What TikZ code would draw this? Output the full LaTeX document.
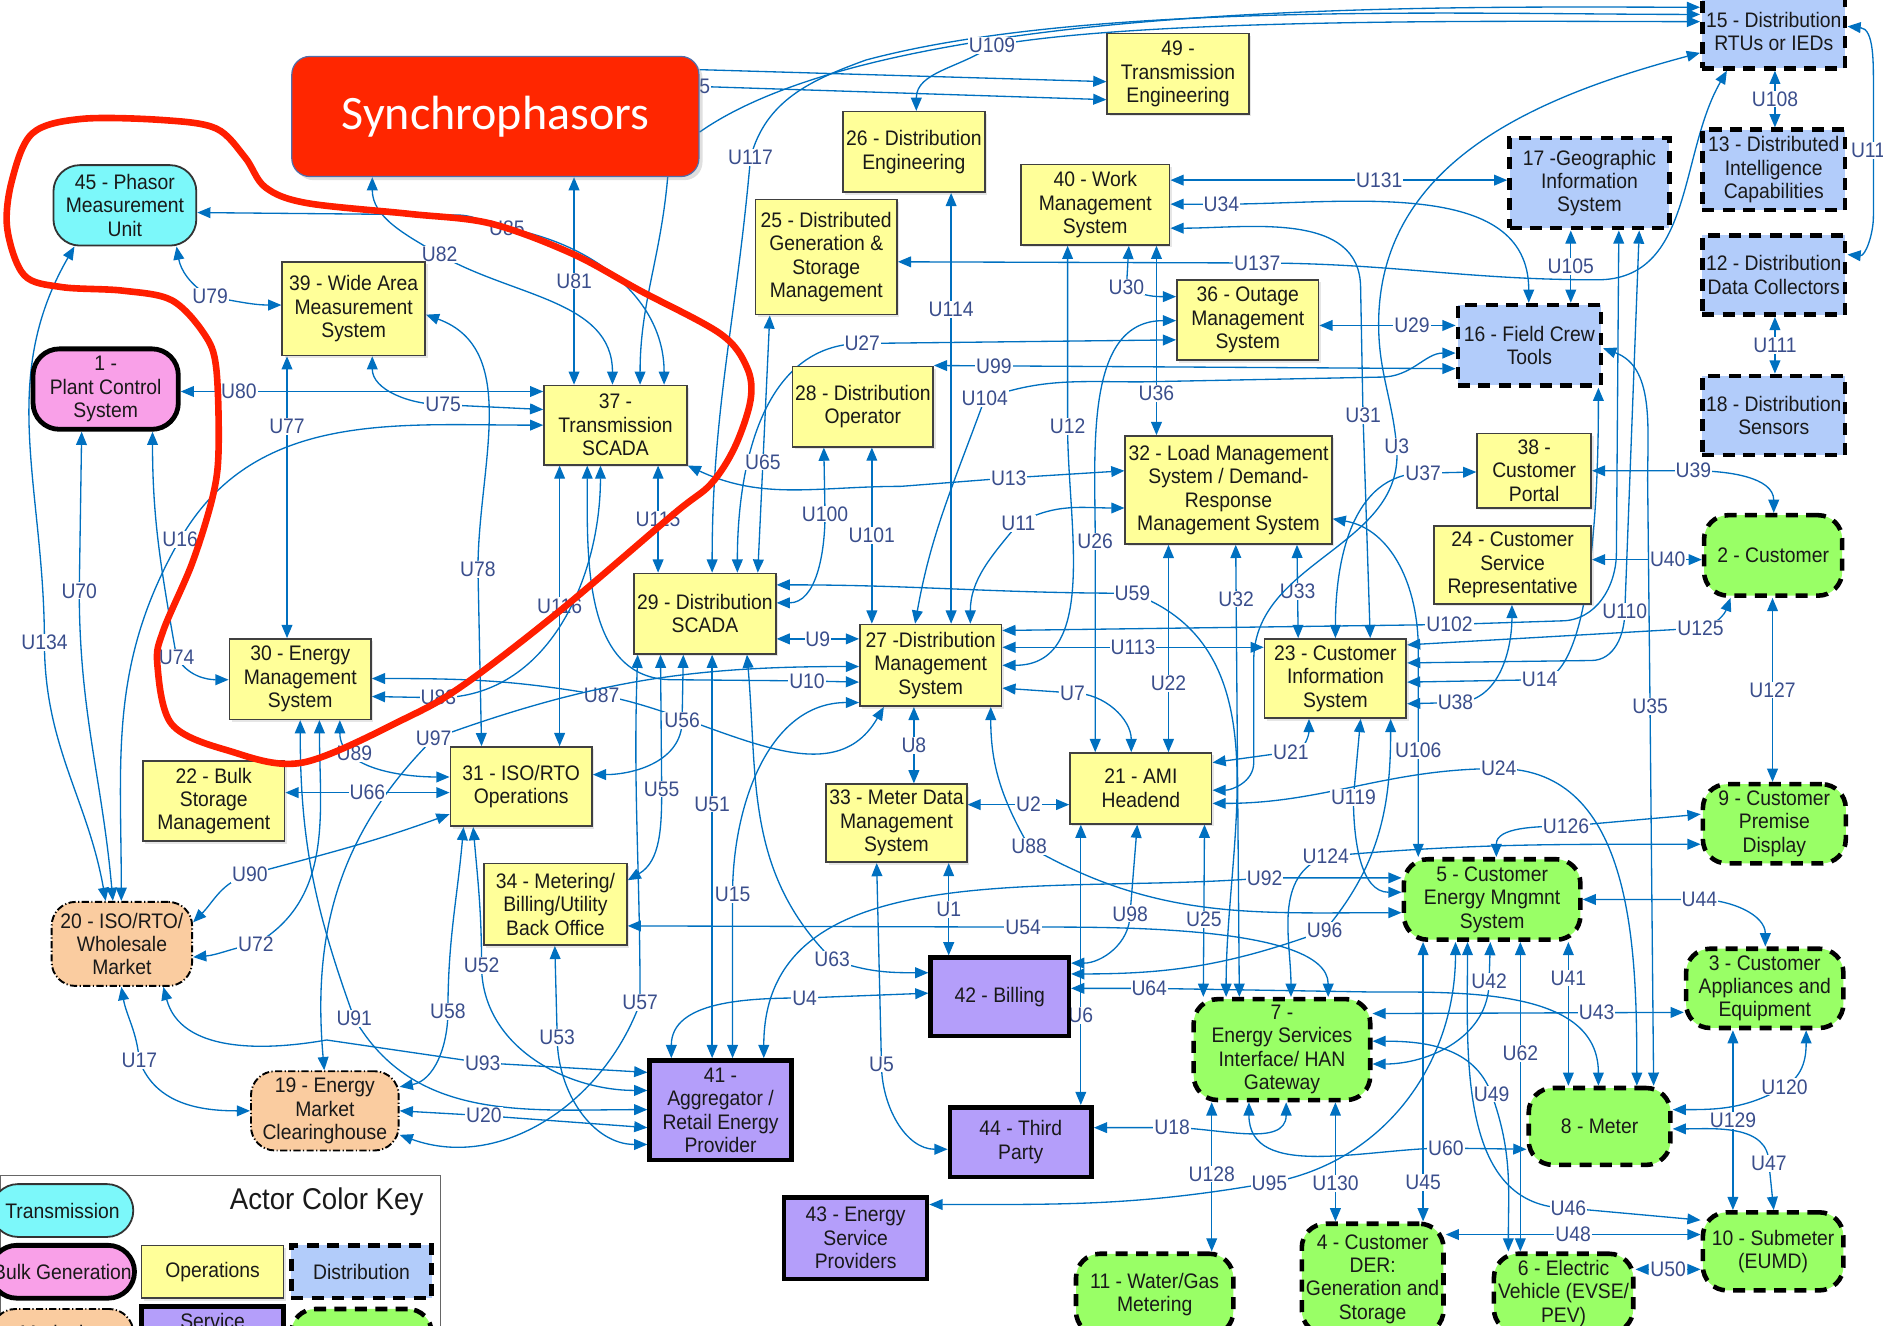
\documentclass[tikz,border=0pt]{standalone}
\usepackage{fontspec}
\setmainfont{Liberation Sans}[FakeStretch=0.92]
\newfontfamily\synfont{Carlito}
\usetikzlibrary{arrows.meta,shadows}

\definecolor{opsyellow}{RGB}{255,255,153}
\definecolor{distblue}{RGB}{178,204,250}
\definecolor{custgreen}{RGB}{153,255,102}
\definecolor{svcpurple}{RGB}{180,158,250}
\definecolor{mktorange}{RGB}{250,204,160}
\definecolor{transcyan}{RGB}{124,248,250}
\definecolor{bulkpink}{RGB}{249,160,232}
\definecolor{lineblue}{RGB}{0,112,192}
\definecolor{lblblue}{RGB}{58,78,140}
\definecolor{synred}{RGB}{255,38,0}
\definecolor{loopred}{RGB}{255,30,0}

\newcommand\actorfont{\fontsize{17.5}{19.5}\selectfont}

\pgfdeclarelayer{bg}
\pgfsetlayers{bg,main}

\tikzset{
  actor/.style={font=\actorfont, align=center, inner sep=1pt, text=black!90},
  ops/.style={actor, draw=black!75, line width=1.3pt, fill=opsyellow, drop shadow={shadow xshift=2pt, shadow yshift=-2pt, opacity=0.2}},
  dist/.style={actor, draw=black, line width=3.8pt, dash pattern=on 10pt off 7pt, fill=distblue},
  cust/.style={dist, fill=custgreen, rounded corners=20pt},
  svc/.style={actor, draw=black, line width=3.8pt, fill=svcpurple},
  mkt/.style={actor, draw=black, line width=1.6pt, dash pattern=on 6pt off 2pt on 1pt off 2pt, rounded corners=20pt, fill=mktorange},
  trans/.style={actor, draw=black!80, line width=1.5pt, rounded corners=22pt, fill=transcyan},
  bulk/.style={actor, draw=black, line width=4pt, rounded corners=22pt, fill=bulkpink},
  cn/.style={draw=lineblue, line width=1.1pt, <->},
  one/.style={draw=lineblue, line width=1.1pt, ->},
  lbl/.style={font=\actorfont, text=lblblue, fill=white, inner sep=0.8pt},
}

\begin{document}
\begin{tikzpicture}[x=1pt, y=-1pt, >={Triangle[length=11pt,width=9pt]}]
\useasboundingbox (0,0) rectangle (1568,1104);
\clip (0,0) rectangle (1568,1104);

\node[draw={rgb,255:red,80;green,110;blue,170}, line width=1pt, fill=synred, rounded corners=15pt, minimum width=339pt, minimum height=100pt, text=white, font=\synfont\fontsize{40}{44}\selectfont, drop shadow={shadow xshift=3pt, shadow yshift=-3pt, opacity=0.25}] (syn) at (412.5,97) {Synchrophasors};

\node[trans, minimum width=119pt, minimum height=67pt] (n45) at (104,171) {45 - Phasor\\Measurement\\Unit};
\node[ops, minimum width=119pt, minimum height=78pt] (n39) at (294.5,257) {39 - Wide Area\\Measurement\\System};
\node[bulk, minimum width=121pt, minimum height=67pt] (n1) at (88,324) {1 -\\Plant Control\\System};
\node[ops, minimum width=119pt, minimum height=66pt] (n37) at (512.5,354) {37 -\\Transmission\\SCADA};
\node[ops, minimum width=118pt, minimum height=67pt] (n30) at (250,565.5) {30 - Energy\\Management\\System};
\node[ops, minimum width=118pt, minimum height=67pt] (n22) at (178,667) {22 - Bulk\\Storage\\Management};
\node[ops, minimum width=118pt, minimum height=66pt] (n31) at (434,655) {31 - ISO/RTO\\Operations};
\node[mkt, minimum width=117pt, minimum height=70pt] (n20) at (101.5,786) {20 - ISO/RTO/\\Wholesale\\Market};
\node[ops, minimum width=119pt, minimum height=68pt] (n34) at (462.5,753) {34 - Metering/\\Billing/Utility\\Back Office};
\node[mkt, minimum width=123pt, minimum height=66pt] (n19) at (270.5,925) {19 - Energy\\Market\\Clearinghouse};
\node[svc, minimum width=118pt, minimum height=83pt] (n41) at (600,924.5) {41 -\\Aggregator /\\Retail Energy\\Provider};
\node[svc, minimum width=119pt, minimum height=68pt] (n43) at (712.5,1031) {43 - Energy\\Service\\Providers};
\node[svc, minimum width=115pt, minimum height=65pt] (n42) at (832.5,830) {42 - Billing};
\node[svc, minimum width=118pt, minimum height=58pt] (n44) at (850,951) {44 - Third\\Party};
\node[ops, minimum width=118pt, minimum height=67pt] (n29) at (587,511) {29 - Distribution\\SCADA};
\node[ops, minimum width=117pt, minimum height=67pt] (n28) at (718.5,338.5) {28 - Distribution\\Operator};
\node[ops, minimum width=118pt, minimum height=96pt] (n25) at (688,214) {25 - Distributed\\Generation \&\\Storage\\Management};
\node[ops, minimum width=118pt, minimum height=67pt] (n26) at (761,126.5) {26 - Distribution\\Engineering};
\node[ops, minimum width=118pt, minimum height=67pt] (n49) at (981,61.5) {49 -\\Transmission\\Engineering};
\node[ops, minimum width=124pt, minimum height=67pt] (n40) at (912,170.5) {40 - Work\\Management\\System};
\node[ops, minimum width=118pt, minimum height=67pt] (n36) at (1039,266.5) {36 - Outage\\Management\\System};
\node[ops, minimum width=118pt, minimum height=68pt] (n27) at (775,554) {27 -Distribution\\Management\\System};
\node[ops, minimum width=117pt, minimum height=65pt] (n33) at (746.5,685.5) {33 - Meter Data\\Management\\System};
\node[ops, minimum width=118pt, minimum height=59pt] (n21) at (950,656.5) {21 - AMI\\Headend};
\node[ops, minimum width=172pt, minimum height=90pt] (n32) at (1023,408) {32 - Load Management\\System / Demand-\\Response\\Management System};
\node[ops, minimum width=118pt, minimum height=66pt] (n23) at (1112,565) {23 - Customer\\Information\\System};
\node[ops, minimum width=95pt, minimum height=62pt] (n38) at (1277.5,392) {38 -\\Customer\\Portal};
\node[ops, minimum width=131pt, minimum height=65pt] (n24) at (1259.5,470.5) {24 - Customer\\Service\\Representative};
\node[dist, minimum width=133pt, minimum height=75pt] (n17) at (1323.5,152.5) {17 -Geographic\\Information\\System};
\node[dist, minimum width=119pt, minimum height=67pt] (n16) at (1273.5,287.5) {16 - Field Crew\\Tools};
\node[dist, minimum width=119pt, minimum height=62pt] (n15) at (1477,26) {15 - Distribution\\RTUs or IEDs};
\node[dist, minimum width=119pt, minimum height=67pt] (n13) at (1477,141.5) {13 - Distributed\\Intelligence\\Capabilities};
\node[dist, minimum width=119pt, minimum height=66pt] (n12) at (1477,229) {12 - Distribution\\Data Collectors};
\node[dist, minimum width=119pt, minimum height=66pt] (n18) at (1477,346) {18 - Distribution\\Sensors};
\node[cust, minimum width=115pt, minimum height=67pt] (n2) at (1476.5,462.5) {2 - Customer};
\node[cust, minimum width=119pt, minimum height=66pt] (n9) at (1477.5,686) {9 - Customer\\Premise\\Display};
\node[cust, minimum width=147pt, minimum height=67pt] (n5) at (1242.5,749) {5 - Customer\\Energy Mngmnt\\System};
\node[cust, minimum width=131pt, minimum height=66pt] (n3) at (1469.5,823) {3 - Customer\\Appliances and\\Equipment};
\node[cust, minimum width=147pt, minimum height=84pt] (n7) at (1067.5,874) {7 -\\Energy Services\\Interface/ HAN\\Gateway};
\node[cust, minimum width=118pt, minimum height=64pt] (n8) at (1332,938) {8 - Meter};
\node[cust, minimum width=117pt, minimum height=65pt] (n10) at (1476.5,1042) {10 - Submeter\\(EUMD)};
\node[cust, minimum width=118pt, minimum height=92pt] (n4) at (1143,1065) {4 - Customer\\DER:\\Generation and\\Storage};
\node[cust, minimum width=116pt, minimum height=66pt] (n6) at (1302,1077) {6 - Electric\\Vehicle (EVSE/\\PEV)};
\node[cust, minimum width=131pt, minimum height=68pt] (n11) at (961.5,1078) {11 - Water/Gas\\Metering};

\begin{pgfonlayer}{bg}
\clip (0,0) rectangle (1568,1104);
\draw[one] (syn.east |- 0,58) -- (n49.west |- 0,68);
\draw[one] (syn.east |- 0,72) node[lbl,xshift=-6pt]{U35} -- (n49.west |- 0,83);
\draw[one] (syn.east |- 0,110) to[out=35,in=180,looseness=0.6] (n15.west |- 0,6);
\draw[cn] (n29.north -| 593,0) to[out=90,in=265] (625,131) node[lbl]{U117} to[out=75,in=200] (721,50) to[out=15,in=180,looseness=0.7] (n15.west |- 0,12);
\draw[cn] (n26.north -| 763,0) to[out=90,in=215] (826,38) node[lbl]{U109} to[out=10,in=180,looseness=0.6] (n15.west |- 0,18);
\draw[cn] (n25.east |- 0,218) -- (1047,219) node[lbl]{U137} to[out=0,in=180] (1330,233) to[out=0,in=240] (n15.south -| 1438,0);
\draw[cn] (n15.east |- 0,22) to[out=-5,in=90] (1560,75) -- (1560,125) node[lbl]{U112} -- (1560,180) to[out=270,in=-5] (n12.east |- 0,212);
\draw[cn] (n15.south -| 1478,0) -- node[lbl]{U108} (n13.north -| 1478,0);
\draw[cn] (n12.south -| 1478,0) -- node[lbl]{U111} (n18.north -| 1478,0);

\draw[cn] (syn.south -| 478,0) -- node[lbl]{U81} (n37.north -| 478,0);
\draw[cn] (syn.south -| 310,0) to[out=270,in=150] (366,212) node[lbl]{U82} to[out=-30,in=90] (n37.north -| 510,0);
\draw[one] (syn.south -| 556,0) to[out=265,in=90] (n37.north -| 533,0);
\draw[cn] (n45.east |- 0,177) -- (380,179) to[out=0,in=170] (422,190) node[lbl]{U85} to[out=-10,in=90] (n37.north -| 553,0);
\draw[cn] (n45.south -| 147,0) to[out=-80,in=150] (175,247) node[lbl]{U79} to[out=-10,in=180] (n39.west |- 0,254);
\draw[cn] (n45.south -| 62,0) to[out=240,in=90] (37,535) node[lbl]{U134} to[out=270,in=100] (n20.north -| 88,0);
\draw[cn] (n1.south -| 68,0) -- (66,492) node[lbl]{U70} to[out=270,in=95] (n20.north -| 94,0);
\draw[cn] (n1.south -| 127,0) to[out=270,in=100] (147,547) node[lbl]{U74} to[out=-60,in=180] (n30.west |- 0,566);
\draw[cn] (n37.west |- 0,354) to[out=180,in=60] (150,449) node[lbl]{U16} to[out=240,in=90] (n20.north -| 101,0);
\draw[cn] (n1.east |- 0,326) -- (199,326) node[lbl]{U80} -- (n37.west |- 0,326);
\draw[cn] (n39.south -| 310,0) to[out=270,in=180] (369,337) node[lbl]{U75} -- (n37.west |- 0,341);
\draw[cn] (n39.south -| 239,0) -- node[lbl,pos=0.25]{U77} (n30.north -| 239,0);
\draw[cn] (n39.east |- 0,262) to[out=-20,in=90] (398,474) node[lbl]{U78} -- (n31.north -| 401,0);
\draw[cn] (n37.south -| 466,0) -- node[lbl]{U116} (n31.north -| 466,0);
\draw[cn] (n37.south -| 489,0) to[out=270,in=180] (560,566) -- (672,567) node[lbl]{U10} -- (n27.west |- 0,568);
\draw[cn] (n37.south -| 500,0) to[out=270,in=0] (365,581) node[lbl]{U83} -- (n30.east |- 0,580);
\draw[cn] (n30.east |- 0,565) to[out=0,in=170] (501,579) node[lbl]{U87} to[out=-10,in=240] (n27.south -| 736,0);
\draw[cn] (n27.west |- 0,555) to[out=180,in=20] (361,615) node[lbl]{U97} to[out=225,in=95] (n19.north -| 270,0);
\draw[cn] (n30.south -| 283,0) to[out=270,in=180] node[lbl,pos=0.3]{U89} (n31.west |- 0,647);
\draw[cn] (n22.east |- 0,660) -- node[lbl]{U66} (n31.west |- 0,660);
\draw[cn] (n31.west |- 0,678) to[out=200,in=15] (208,728) node[lbl]{U90} to[out=195,in=45] (n20.east |- 0,768);
\draw[cn] (n20.east |- 0,797) to[out=5,in=190] (213,786) node[lbl]{U72} to[out=30,in=270] (n30.south -| 266,0);
\draw[cn] (n30.south -| 250,0) to[out=270,in=110] (295,848) node[lbl]{U91} to[out=-60,in=180] (n41.west |- 0,924);
\draw[cn] (n20.south -| 136,0) to[out=285,in=190] (272,866) -- (402,885) node[lbl]{U93} -- (n41.west |- 0,893);
\draw[cn] (n20.south -| 101,0) to[out=280,in=95] (116,883) node[lbl]{U17} to[out=-70,in=180] (n19.west |- 0,925);
\draw[cn] (n31.south -| 386,0) to[out=265,in=90] (373,842) node[lbl]{U58} to[out=270,in=10] (n19.east |- 0,905);
\draw[cn] (n31.south -| 394,0) to[out=275,in=90] (401,804) node[lbl]{U52} to[out=270,in=180] (n41.west |- 0,908);
\draw[cn] (n19.east |- 0,925) -- (403,929) node[lbl]{U20} -- (n41.west |- 0,939);
\draw[cn] (n29.south -| 531,0) to[out=268,in=90] (533,835) node[lbl]{U57} to[out=250,in=-20] (n19.east |- 0,945);
\draw[cn] (n34.south -| 462,0) -- (464,864) node[lbl]{U53} to[out=270,in=180] (n41.west |- 0,953);
\draw[cn] (n29.south -| 550,0) -- (551,657) node[lbl]{U55} to[out=270,in=30] (n34.east |- 0,733);
\draw[cn] (n29.south -| 569,0) -- (568,600) node[lbl]{U56} to[out=270,in=0] (n31.east |- 0,645);
\draw[cn] (n29.south -| 593,0) -- node[lbl,pos=0.37]{U51} (n41.north -| 593,0);
\draw[cn] (n29.south -| 622,0) to[out=275,in=135] (693,799) node[lbl]{U63} to[out=-20,in=180] (n42.west |- 0,810);
\draw[cn] (n27.west |- 0,585) to[out=180,in=90] (610,745) node[lbl]{U15} -- (n41.north -| 610,0);
\draw[cn] (n42.west |- 0,827) -- (670,831) node[lbl]{U4} to[out=180,in=90] (n41.north -| 559,0);
\draw[cn] (n41.north -| 636,0) to[out=90,in=185] (1053,731) node[lbl]{U92} -- (n5.west |- 0,731);
\draw[cn] (n34.east |- 0,771) -- (852,772) node[lbl]{U54} to[out=0,in=90,looseness=0.6] (n7.north -| 1106,0);
\draw[cn] (n33.south -| 790,0) -- node[lbl]{U1} (n42.north -| 790,0);
\draw[cn] (n33.south -| 730,0) -- (734,886) node[lbl]{U5} to[out=270,in=180] (n44.west |- 0,957);
\draw[cn] (n27.south -| 761,0) -- node[lbl]{U8} (n33.north -| 761,0);
\draw[cn] (n33.east |- 0,670) -- node[lbl,pos=0.6]{U2} (n21.west |- 0,670);
\draw[cn] (n21.south -| 900,0) -- node[lbl,pos=0.68]{U6} (n44.north -| 900,0);
\draw[cn] (n21.south -| 947,0) -- (941,761) node[lbl]{U98} to[out=270,in=0] (n42.east |- 0,802);
\draw[cn] (n42.east |- 0,811) to[out=0,in=200] (1103,775) node[lbl]{U96} to[out=50,in=270] (n23.south -| 1158,0);
\draw[cn] (n42.east |- 0,823) -- (957,823) node[lbl]{U64} -- (1140,826) to[out=0,in=90] (n8.north -| 1331,0);
\draw[cn] (n21.south -| 1003,0) -- node[lbl,pos=0.55]{U25} (n7.north -| 1002,0);
\draw[cn] (n27.south -| 825,0) to[out=270,in=120] (857,705) node[lbl]{U88} to[out=-30,in=180] (n5.west |- 0,760);
\draw[cn] (n29.east |- 0,487) to[out=0,in=180] (943,494) node[lbl]{U59} to[out=-20,in=90] (n7.north -| 1021,0);
\draw[cn] (n32.south -| 1029,0) -- node[lbl,pos=0.12]{U32} (n7.north -| 1032,0);
\draw[cn] (n32.south -| 973,0) -- node[lbl,pos=0.67]{U22} (n21.north -| 973,0);
\draw[cn] (n21.north -| 912,0) -- (912,451) node[lbl]{U26} to[out=90,in=180] (n36.west |- 0,267);
\draw[cn] (n27.east |- 0,573) -- (893,577) node[lbl]{U7} to[out=0,in=90] (n21.north -| 942,0);
\draw[cn] (n27.east |- 0,554) to[out=0,in=270] (889,355) node[lbl]{U12} -- (n40.south -| 889,0);
\draw[cn] (n27.east |- 0,539) -- node[lbl]{U113} (n23.west |- 0,539);
\draw[cn] (n27.east |- 0,525) -- (1207,520) node[lbl]{U102} -- (1300,517) to[out=0,in=270] (1346,460) -- (n17.south -| 1348,0);
\draw[cn] (n23.east |- 0,552) -- (1325,550) to[out=0,in=270] (1353,509) node[lbl]{U110} -- (n17.south -| 1365,0);
\draw[cn] (n23.east |- 0,568) -- (1282,566) node[lbl]{U14} to[out=0,in=270,looseness=0.5] (n16.south -| 1331,0);
\draw[cn] (n23.east |- 0,586) -- (1212,585) node[lbl]{U38} to[out=0,in=270] (n24.south -| 1259,0);
\draw[cn] (n23.east |- 0,537) -- (1416,523) node[lbl]{U125} to[out=10,in=250] (n2.south -| 1441,0);
\draw[cn] (n32.south -| 1080,0) -- node[lbl]{U33} (n23.north -| 1081,0);
\draw[cn] (n23.north -| 1112,0) to[out=90,in=180] (1185,394) node[lbl]{U37} -- (n38.west |- 0,393);
\draw[cn] (n23.north -| 1141,0) -- (1135,346) node[lbl]{U31} -- (1133,240) to[out=90,in=0] (n40.east |- 0,190);
\draw[cn] (n15.west |- 0,44) to[out=195,in=90] (1148,270) to[out=270,in=95] (1163,372) node[lbl]{U3} to[out=275,in=90] (1044,550) -- (1044,635) to[out=270,in=0] (n21.east |- 0,658);
\draw[cn] (n23.south -| 1090,0) to[out=270,in=0] (1075,626) node[lbl]{U21} -- (n21.east |- 0,635);
\draw[cn] (n21.east |- 0,669) to[out=0,in=180] (1248,640) node[lbl]{U24} to[out=0,in=90] (n8.north -| 1363,0);
\draw[cn] (n23.south -| 1133,0) -- (1127,664) node[lbl]{U119} to[out=270,in=180] (n5.west |- 0,743);
\draw[cn] (n32.east |- 0,432) to[out=-10,in=90] (1181,540) -- (1181,625) node[lbl]{U106} -- (n5.north -| 1181,0);
\draw[cn] (n5.north -| 1246,0) to[out=90,in=180] (1304,688) node[lbl]{U126} -- (n9.west |- 0,678);
\draw[cn] (n7.north -| 1075,0) to[out=90,in=200] (1104,713) node[lbl]{U124} to[out=5,in=180] (n9.west |- 0,703);
\draw[cn] (n5.east |- 0,749) -- (1415,749) node[lbl]{U44} to[out=0,in=90] (n3.north -| 1470,0);
\draw[cn] (n2.south -| 1476,0) -- node[lbl]{U127} (n9.north -| 1476,0);
\draw[cn] (n7.east |- 0,844) -- node[lbl,pos=0.72]{U43} (n3.west |- 0,843);
\draw[cn] (n5.south -| 1241,0) -- (1240,817) node[lbl]{U42} to[out=270,in=0] (n7.east |- 0,886);
\draw[cn] (n7.east |- 0,867) to[out=0,in=110] (1242,911) node[lbl]{U49} to[out=-70,in=90] (n6.north -| 1256,0);
\draw[cn] (n5.south -| 1266,0) -- node[lbl,pos=0.36]{U62} (n6.north -| 1266,0);
\draw[cn] (n5.south -| 1306,0) -- node[lbl,pos=0.25]{U41} (n8.north -| 1306,0);
\draw[cn] (n5.south -| 1222,0) to[out=270,in=180] (1306,1006) node[lbl]{U46} -- (n10.west |- 0,1016);
\draw[cn] (n5.south -| 1185,0) -- node[lbl,pos=0.86]{U45} (n4.north -| 1185,0);
\draw[cn] (n43.east |- 0,1003) to[out=0,in=190] (1057,985) node[lbl]{U95} to[out=10,in=270] (n5.south -| 1212,0);
\draw[cn] (n7.south -| 1009,0) -- node[lbl,pos=0.48]{U128} (n11.north -| 1009,0);
\draw[cn] (n7.south -| 1112,0) -- node[lbl,pos=0.68]{U130} (n4.north -| 1112,0);
\draw[cn] (n44.east |- 0,939) -- (976,939) node[lbl]{U18} to[out=0,in=270] (n7.south -| 1071,0);
\draw[cn] (n7.south -| 1040,0) to[out=270,in=180] (1204,956) node[lbl]{U60} -- (n8.west |- 0,957);
\draw[cn] (n4.east |- 0,1028) -- node[lbl]{U48} (n10.west |- 0,1028);
\draw[cn] (n6.east |- 0,1057) -- node[lbl]{U50} (n10.west |- 0,1057);
\draw[cn] (n3.south -| 1504,0) to[out=270,in=30] (1486,905) node[lbl]{U120} to[out=210,in=0] (n8.east |- 0,924);
\draw[cn] (n3.south -| 1443,0) -- node[lbl]{U129} (n10.north -| 1443,0);
\draw[cn] (n8.east |- 0,940) to[out=0,in=90] (1473,969) node[lbl]{U47} -- (n10.north -| 1477,0);
\draw[cn] (n38.east |- 0,392) -- (1410,392) node[lbl]{U39} to[out=0,in=90] (n2.north -| 1477,0);
\draw[cn] (n24.east |- 0,466) -- node[lbl,pos=0.69]{U40} (n2.west |- 0,466);
\draw[cn] (n16.east |- 0,290) to[out=-20,in=90] (1372,400) -- (1374,588) node[lbl]{U35} -- (n8.north -| 1377,0);
\draw[cn] (n17.south -| 1308,0) -- node[lbl]{U105} (n16.north -| 1308,0);
\draw[cn] (n36.east |- 0,271) -- node[lbl,pos=0.68]{U29} (n16.west |- 0,271);
\draw[cn] (n28.north east) -- node[lbl,pos=0.115]{U99} (n16.west |- 0,307);
\draw[cn] (n27.north -| 762,0) to[out=80,in=250] (820,332) node[lbl]{U104} to[out=20,in=180] (950,318) -- (1150,314) to[out=0,in=180] (n16.west |- 0,294);
\draw[cn] (n29.north -| 614,0) to[out=90,in=180] (718,286) node[lbl]{U27} -- (n36.west |- 0,283);
\draw[cn] (n29.north -| 631,0) -- node[lbl,pos=0.43]{U65} (n25.south -| 641,0);
\draw[cn] (n37.south -| 548,0) -- node[lbl]{U115} (n29.north -| 548,0);
\draw[cn] (n40.east |- 0,150) -- node[lbl,pos=0.62]{U131} (n17.west |- 0,150);
\draw[cn] (n40.east |- 0,170) -- (1017,170) node[lbl]{U34} to[out=0,in=90] (n16.north -| 1273,0);
\draw[cn] (n40.south -| 963,0) -- node[lbl,pos=0.78]{U36} (n32.north -| 963,0);
\draw[cn] (n40.south -| 940,0) -- (938,239) node[lbl]{U30} to[out=-30,in=180] (n36.west |- 0,247);
\draw[cn] (n37.south east) to[out=-25,in=180] (750,405) -- (840,398) node[lbl]{U13} -- (n32.west |- 0,392);
\draw[cn] (n27.north -| 808,0) to[out=90,in=230] (848,436) node[lbl]{U11} to[out=30,in=180] (n32.west |- 0,423);
\draw[cn] (n26.south -| 792,0) -- node[lbl,pos=0.27]{U114} (n27.north -| 792,0);
\draw[cn] (n28.south -| 726,0) -- node[lbl]{U101} (n27.north -| 726,0);
\draw[cn] (n28.south -| 686,0) -- (687,428) node[lbl]{U100} to[out=270,in=0] (n29.east |- 0,502);
\draw[cn] (n29.east |- 0,532) -- node[lbl]{U9} (n27.west |- 0,532);
\end{pgfonlayer}

\draw[loopred, line width=5.5pt] plot[smooth cycle, tension=0.55] coordinates {(6,190) (10,150) (27,111) (68,99) (136,100) (180,107) (204,131) (221,156) (255,169) (340,178) (408,186) (476,211) (533,242) (600,278) (622,306) (625,333) (612,372) (592,403) (561,428) (467,508) (388,569) (340,597) (252,635) (190,625) (143,603) (131,553) (136,525) (160,469) (177,414) (182,375) (180,306) (170,278) (143,250) (102,242) (51,239) (20,229)};

\draw[black!60, line width=1pt] (0,979) rectangle (367,1130);
\node[font=\fontsize{25}{28}\selectfont, text=black!90] (lgtitle) at (272,1001) {Actor Color Key};
\node[trans, minimum width=118pt, minimum height=44pt] (lgtrans) at (52,1008) {Transmission};
\node[bulk, minimum width=120pt, minimum height=44pt] (lgbulk) at (52,1059) {Bulk Generation};
\node[ops, minimum width=118pt, minimum height=44pt] (lgops) at (177,1059) {Operations};
\node[dist, minimum width=117pt, minimum height=44pt] (lgdist) at (301,1059) {Distribution};
\node[mkt, minimum width=118pt, minimum height=44pt] (lgmkt) at (52,1112) {Marketing};
\node[svc, minimum width=118pt, minimum height=44pt] (lgsvc) at (177,1110) {Service\\Provider};
\node[cust, minimum width=117pt, minimum height=44pt] (lgcust) at (301,1112) {Customer};
\end{tikzpicture}
\end{document}
